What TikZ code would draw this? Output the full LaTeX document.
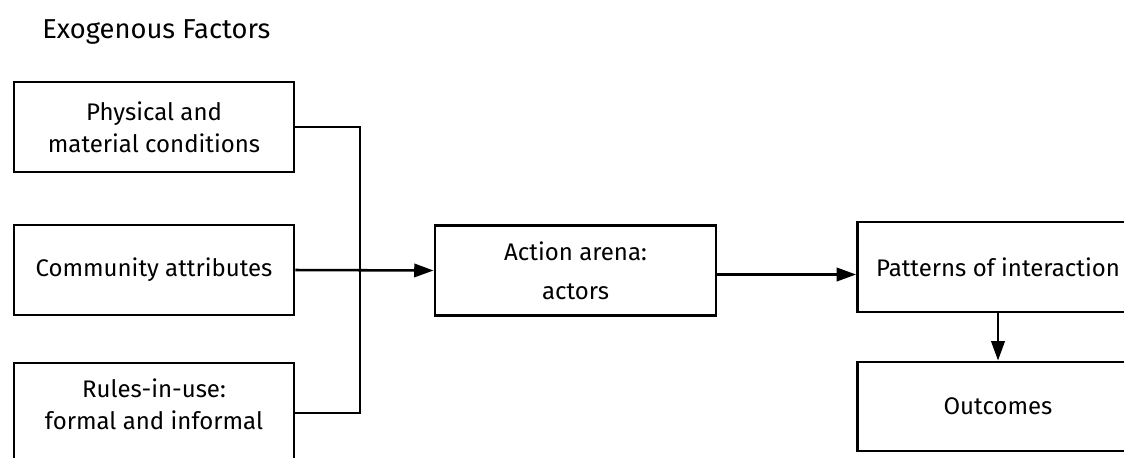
\documentclass[tikz,border=0pt]{standalone}
\usepackage{fontspec}
\setmainfont{Fira Sans}
\usepackage{tikz}
\usetikzlibrary{arrows.meta}

\begin{document}
\begin{tikzpicture}[x=0.75pt,y=-0.75pt,
    box/.style={draw,line width=1.9pt,rectangle,minimum width=210pt,minimum height=67.5pt,align=center,inner sep=0pt},
    link/.style={line width=1.9pt},
    flow/.style={line width=1.9pt,-{Triangle[length=14.5pt,width=10pt]}},
    font=\fontsize{18pt}{24pt}\selectfont]
      \useasboundingbox (0,0) rectangle (1124,457);
      \clip (0,0) rectangle (1124,457);
      \node[anchor=base west,inner sep=0pt,font=\fontsize{20.5pt}{24pt}\selectfont] (title) at (42,38) {Exogenous Factors};
      \node[box] (phys) at (154,127) {Physical and\\material conditions};
      \node[box] (comm) at (154,270) {Community attributes};
      \node[box,minimum height=75pt] (rules) at (154,413) {};
      \node[align=center] (rulestxt) at (154,404) {Rules-in-use:\\formal and informal};
      \node[box,minimum width=211pt] (arena) at (575.5,270.5) {Action arena:\\[5pt]actors};
      \node[box,minimum width=211pt] (pat) at (998,267) {Patterns of interaction};
      \node[box,minimum width=211pt,minimum height=67pt] (out) at (998,406.5) {Outcomes};
      \coordinate (join) at (360,270);
      \draw[link] (phys.east) -| (join);
      \draw[link] (rules.east) -| (join);
      \draw[flow] (comm.east) -- (arena.west);
      \draw[flow] ([yshift=-3pt]arena.east) -- ([yshift=-3pt]arena.east -| pat.west);
      \draw[flow] (pat.south) -- (out.north);
    \end{tikzpicture}
\end{document}
